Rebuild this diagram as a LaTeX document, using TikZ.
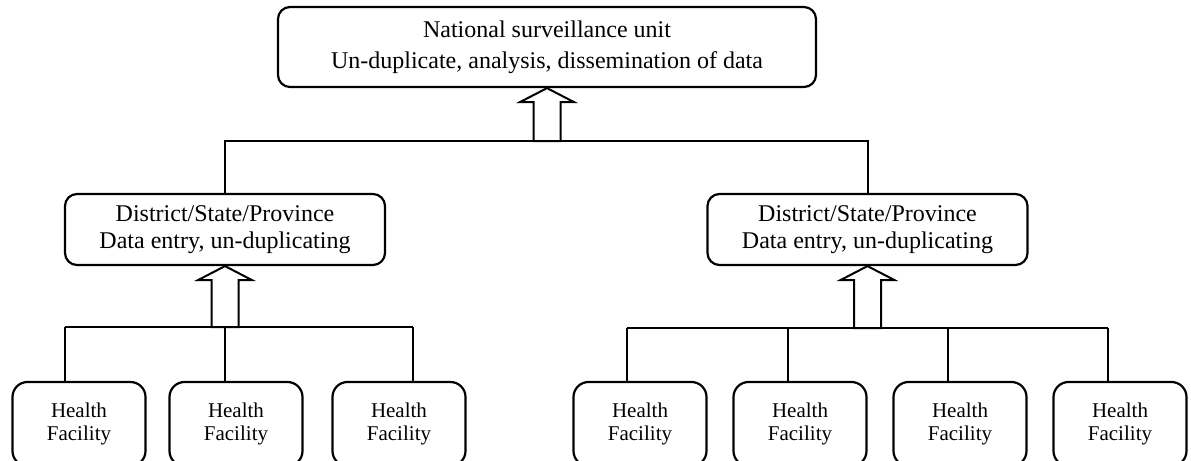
\documentclass[tikz,border=0pt]{standalone}
\usepackage{fontspec}
\setmainfont{Liberation Serif}
\usetikzlibrary{calc}

\newcommand{\upblock}[2]{%
  \draw[blockarr] (#1) -- ++(-27,14) -- ++(13.5,0)
    -- ($(#1 |- #2)+(-13.5,0)$) -- ++(27,0)
    -- ($(#1)+(13.5,14)$) -- ++(13.5,0) -- cycle;}

\begin{document}
\begin{tikzpicture}[
  x=0.5pt, y=-0.5pt,
  orgbox/.style={draw=black, line width=1.1pt, rounded corners=6pt, align=center,
                 inner sep=0pt, fill=white},
  natbox/.style={orgbox, minimum width=269pt, minimum height=40pt,
                 font=\fontsize{12}{15.5}\selectfont},
  distbox/.style={orgbox, minimum width=160pt, minimum height=35.5pt,
                  font=\fontsize{12}{13.5}\selectfont},
  hfbox/.style={orgbox, rounded corners=7.5pt, minimum width=66.5pt,
                minimum height=42pt, font=\fontsize{10.5}{11.5}\selectfont},
  busline/.style={line width=1pt, draw=black},
  blockarr/.style={line width=1pt, draw=black, fill=white, line join=miter}
]
  \useasboundingbox (0,0) rectangle (1191,461);
  \clip (0,0) rectangle (1191,461);

  \node[natbox] (nat) at (547,47)
    {National surveillance unit\\Un-duplicate, analysis, dissemination of data};
  \node[distbox] (distL) at (225,229.5)
    {District/State/Province\\Data entry, un-duplicating};
  \node[distbox] (distR) at (867.5,229.5)
    {District/State/Province\\Data entry, un-duplicating};

  \node[hfbox] (hf1) at (79,424) {Health\\Facility};
  \node[hfbox] (hf2) at (236,424) {Health\\Facility};
  \node[hfbox] (hf3) at (399,424) {Health\\Facility};
  \node[hfbox] (hf4) at (640,424) {Health\\Facility};
  \node[hfbox] (hf5) at (800,424) {Health\\Facility};
  \node[hfbox] (hf6) at (960,424) {Health\\Facility};
  \node[hfbox] (hf7) at (1120,424) {Health\\Facility};

  \coordinate (busT) at (547,141);
  \coordinate (busL1) at (65,327);
  \coordinate (busL2) at (225,327);
  \coordinate (busL3) at (413,327);
  \coordinate (busR1) at (627,328);
  \coordinate (busR2) at (788,328);
  \coordinate (busR3) at (948,328);
  \coordinate (busR4) at (1108,328);

  \draw[busline] (distL.north) |- (busT) -| (distR.north);
  \draw[busline] (busL1) -- (busL3);
  \draw[busline] (busR1) -- (busR4);
  \foreach \b/\h in {busL1/hf1, busL2/hf2, busL3/hf3,
                     busR1/hf4, busR2/hf5, busR3/hf6, busR4/hf7}
    \draw[busline] (\b) -- (\b |- \h.north);

  \upblock{nat.south}{busT}
  \upblock{distL.south}{busL2}
  \upblock{distR.south}{busR1}
\end{tikzpicture}
\end{document}
